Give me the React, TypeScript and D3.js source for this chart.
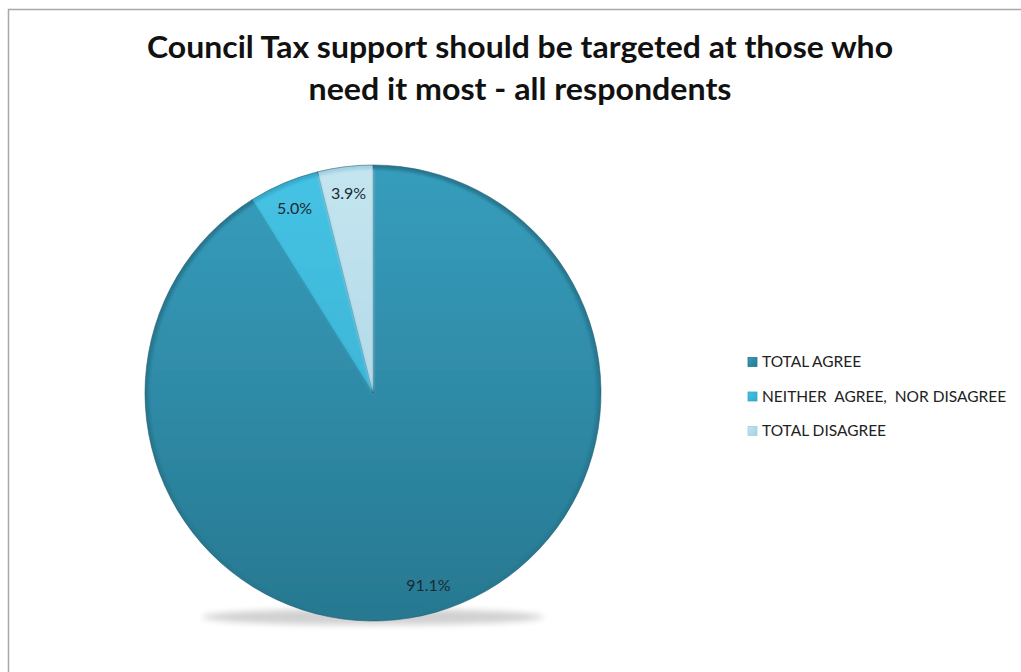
import React from "react";
import * as d3 from "d3";

const categories = ["TOTAL AGREE", "NEITHER  AGREE,  NOR DISAGREE", "TOTAL DISAGREE"];
const values = [91.1, 5.0, 3.9];
const colorsTop = ["#369dbd", "#45c3e4", "#c4e5f0"];
const colorsBottom = ["#277890", "#35a9cb", "#a3d0e0"];
const titleLines = ["Council Tax support should be targeted at those who", "need it most - all respondents"];

const W = 1021;
const H = 672;
const cx = 373;
const cy = 393;
const R = 228;

export default function App() {
  const pie = d3.pie<number>().sort(null).startAngle(0).endAngle(2 * Math.PI);
  const arcs = pie(values);
  const arc = d3.arc<d3.PieArcDatum<number>>().innerRadius(0).outerRadius(R);
  const innerArc = d3.arc<d3.PieArcDatum<number>>().innerRadius(0).outerRadius(R - 4);
  const labelArc = d3.arc<d3.PieArcDatum<number>>().innerRadius(R * 0.88).outerRadius(R * 0.88);
  const font = "Lato, 'Open Sans', sans-serif";
  const titleLens = [746, 423];

  return (
    <svg width={W} height={H} style={{ position: "absolute", left: 0, top: 0, background: "#fff" }}>
      <defs>
        {arcs.map((a, i) => (
          <linearGradient key={i} id={`g${i}`} x1="0" y1={-R} x2="0" y2={R} gradientUnits="userSpaceOnUse">
            <stop offset="0" stopColor={colorsTop[i]} />
            <stop offset="1" stopColor={colorsBottom[i]} />
          </linearGradient>
        ))}
        {arcs.map((a, i) => (
          <linearGradient key={"l" + i} id={`lg${i}`} x1="0" y1="0" x2="1" y2="1">
            <stop offset="0" stopColor={colorsTop[i]} />
            <stop offset="1" stopColor={colorsBottom[i]} />
          </linearGradient>
        ))}
        <filter id="shadow" x="-20%" y="-50%" width="140%" height="200%">
          <feGaussianBlur stdDeviation="3" />
        </filter>
        <filter id="soft" x="-5%" y="-5%" width="110%" height="110%">
          <feGaussianBlur stdDeviation="1.5" />
        </filter>
      </defs>
      <rect x={8.5} y={9.5} width={W + 20} height={H + 20} fill="#fff" stroke="#a9a9a9" strokeWidth={1.5} />
      {titleLines.map((t, i) => (
        <text
          key={i}
          x={520}
          y={58 + i * 42}
          textAnchor="middle"
          fontFamily={font}
          fontWeight={700}
          fontSize={30}
          fill="#111"
          textLength={titleLens[i]}
          lengthAdjust="spacingAndGlyphs"
        >
          {t}
        </text>
      ))}
      <g transform={`translate(${cx},${cy})`}>
        <ellipse cx={0} cy={R - 4} rx={R * 0.75} ry={8} fill="#000" opacity={0.18} filter="url(#shadow)" />
        {arcs.map((a, i) => (
          <g key={i}>
            <path d={arc(a) || ""} fill={colorsBottom[i]} stroke="#1d5a6b" strokeWidth={0.8} strokeOpacity={0.7} />
            <path d={innerArc(a) || ""} fill={`url(#g${i})`} filter="url(#soft)" />
          </g>
        ))}
        {arcs.map((a, i) => {
          const [x, y] = labelArc.centroid(a);
          return (
            <text key={"t" + i} x={x} y={y} dy="0.35em" textAnchor="middle" fontFamily={font} fontSize={16} fill="#1a2a33">
              {d3.format(".1f")(a.data) + "%"}
            </text>
          );
        })}
      </g>
      {categories.map((c, i) => (
        <g key={i} transform={`translate(748,${362 + i * 34.5})`}>
          <rect x={0} y={-4.5} width={9} height={9} fill={`url(#lg${i})`} stroke={colorsBottom[i]} strokeWidth={0.8} />
          <text x={14} y={0} dy="0.35em" fontFamily={font} fontSize={15.5} fill="#222" style={{ whiteSpace: "pre" }}>
            {c}
          </text>
        </g>
      ))}
    </svg>
  );
}
